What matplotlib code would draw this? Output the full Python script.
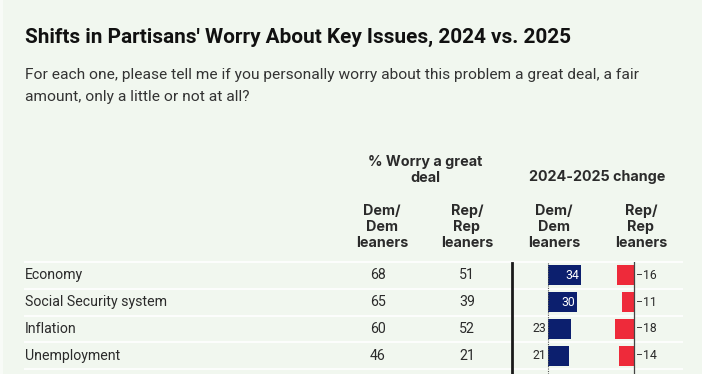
import matplotlib
matplotlib.use('Agg')
import numpy as np
import matplotlib.pyplot as plt

issues = ['Economy', 'Social Security system', 'Inflation', 'Unemployment']
dem_2025 = [68, 65, 60, 46]
rep_2025 = [51, 39, 52, 21]
dem_change = [34, 30, 23, 21]
rep_change = [-16, -11, -18, -14]

titulo = "Shifts in Partisans' Worry About Key Issues, 2024 vs. 2025"
subtitulo = ("For each one, please tell me if you personally worry about this problem a great deal, a fair\n"
             "amount, only a little or not at all?")

W, H = 702, 374
fundo = '#f1f7ef'
azul = '#0c1f6e'
vermelho = '#ee2a3a'
texto = '#2b2b2b'

plt.rcParams['font.family'] = ['Roboto', 'DejaVu Sans']

fig = plt.figure(figsize=(W / 100, H / 100), dpi=100, facecolor=fundo)
base = fig.add_axes([0, 0, 1, 1])
base.set_xlim(0, W)
base.set_ylim(H, 0)
base.axis('off')
base.axvspan(0, 3, color='#f8fbf7', lw=0)

base.text(25, 37, titulo, fontsize=14.95, fontweight='bold', color='#111111', va='center')
base.text(25, 86, subtitulo, fontsize=11.15, color='#333333', va='center', linespacing=1.7)

# cabecalhos
cab = dict(fontsize=10.3, fontweight='bold', color=texto, family=['Inter', 'DejaVu Sans'])
base.text(425, 170, '% Worry a great\ndeal', ha='center', va='center', linespacing=1.22, **cab)
base.text(597, 177, '2024-2025 change', ha='center', va='center', **cab)
for cx, lab in [(382, 'Dem/\nDem\nleaners'), (467, 'Rep/\nRep\nleaners'),
                (554, 'Dem/\nDem\nleaners'), (641, 'Rep/\nRep\nleaners')]:
    base.text(cx, 227, lab, ha='center', va='center', linespacing=1.2, **cab)

# linhas da tabela
topo = 262
altura_linha = 26.75
n = len(issues)
for i in range(n + 1):
    y = topo + i * altura_linha
    base.plot([24, 683], [y, y], color='#fdfefd', lw=1.4, solid_capstyle='butt')

for i, nome in enumerate(issues):
    yc = topo + (i + 0.5) * altura_linha
    base.text(25, yc, nome, fontsize=10.2, color=texto, va='center')
    base.text(378, yc, str(dem_2025[i]), fontsize=10.2, color=texto, ha='center', va='center')
    base.text(467, yc, str(rep_2025[i]), fontsize=10.2, color=texto, ha='center', va='center')

base.plot([512, 512], [topo + 1, H], color='#1a1a1a', lw=2)

# barras das variacoes
def eixo_barras(x0, x1, zero_px, px_por_ponto):
    ax = fig.add_axes([x0 / W, 0, (x1 - x0) / W, (H - topo) / H])
    ax.set_xlim((x0 - zero_px) / px_por_ponto, (x1 - zero_px) / px_por_ponto)
    ax.set_ylim((H - topo) / altura_linha - 0.5, -0.5)
    ax.axis('off')
    return ax

pos = np.arange(n)

ax_d = eixo_barras(515, 600, 548, 0.98)
ax_d.axvline(0, color='#555555', lw=0.8, ls=(0, (1, 1.2)))
ax_d.barh(pos, dem_change, height=0.75, color=azul)
for i, v in enumerate(dem_change):
    if v >= 25:
        ax_d.text(v - 2, i, str(v), color='white', fontsize=8.8, ha='right', va='center')
    else:
        ax_d.text(-2, i, str(v), color=texto, fontsize=8.8, ha='right', va='center')

ax_r = eixo_barras(600, 690, 634, 1.05)
ax_r.axvline(0, color='#444444', lw=0.9)
ax_r.barh(pos, rep_change, height=0.75, color=vermelho)
for i, v in enumerate(rep_change):
    ax_r.text(2, i, '\u2212' + str(abs(v)), color=texto, fontsize=8.8, ha='left', va='center')

fig.savefig('out.png', dpi=100, facecolor=fundo)
